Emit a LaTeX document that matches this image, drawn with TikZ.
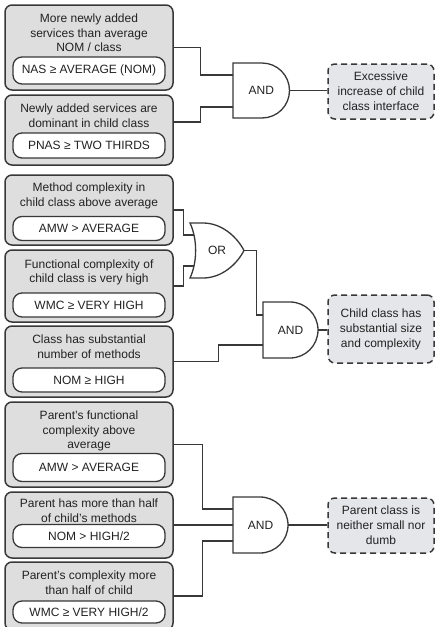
\documentclass[tikz,border=0pt]{standalone}
\usepackage{fontspec}
\setmainfont{Liberation Sans}
\definecolor{boxfill}{HTML}{DEDEDE}
\definecolor{boxline}{HTML}{383838}
\definecolor{resfill}{HTML}{E4E6E9}
\definecolor{ink}{HTML}{222222}

\begin{document}
\begin{tikzpicture}[x=1pt, y=-1pt,
  font=\fontsize{12}{14.5}\selectfont,
  crit/.style={draw=boxline, fill=boxfill, line width=1.5pt,
    rounded corners=7pt, minimum width=168pt, inner sep=0pt},
  cond/.style={draw=boxline, fill=white, line width=1.3pt,
    rounded corners=9pt, minimum width=152pt, inner sep=0pt, text=ink},
  desc/.style={align=center, inner sep=0pt, text=ink},
  result/.style={draw=boxline, dash pattern=on 6pt off 4pt, fill=resfill,
    line width=1.5pt, rounded corners=7pt, minimum width=106pt,
    inner sep=0pt, align=center, text=ink,
    font=\fontsize{12}{15}\selectfont},
  gate/.style={draw=boxline, line width=1.3pt, fill=white},
  gatetext/.style={inner sep=0pt, text=ink},
  wire/.style={draw=boxline, line width=1.3pt}]

\useasboundingbox (0,0) rectangle (436,627);

% ---------- criteria boxes ----------
\node[crit, minimum height=85pt] (b1) at (89,47.5) {};
\node[desc] (t1) at (89,33) {More newly added\\services than average\\NOM / class};
\node[cond, minimum height=27pt] (c1) at (89,70.5) {NAS ≥ AVERAGE (NOM)};

\node[crit, minimum height=70pt] (b2) at (89,130) {};
\node[desc] (t2) at (89,115.5) {Newly added services are\\dominant in child class};
\node[cond, minimum height=25pt] (c2) at (89,145.5) {PNAS ≥ TWO THIRDS};

\node[crit, minimum height=70pt] (b3) at (89,210) {};
\node[desc] (t3) at (89,196) {Method complexity in\\child class above average};
\node[cond, minimum height=24pt] (c3) at (89,228.5) {AMW > AVERAGE};

\node[crit, minimum height=72pt] (b4) at (89,286) {};
\node[desc] (t4) at (89,272.5) {Functional complexity of\\child class is very high};
\node[cond, minimum height=24pt] (c4) at (89,305) {WMC ≥ VERY HIGH};

\node[crit, minimum height=71pt] (b5) at (89,361.5) {};
\node[desc] (t5) at (89,346.5) {Class has substantial\\number of methods};
\node[cond, minimum height=24pt] (c5) at (89,380) {NOM ≥ HIGH};

\node[crit, minimum height=85pt] (b6) at (89,444.5) {};
\node[desc] (t6) at (89,431) {Parent's functional\\complexity above\\average};
\node[cond, minimum height=28pt] (c6) at (89,467.5) {AMW > AVERAGE};

\node[crit, minimum height=66pt] (b7) at (89,525) {};
\node[desc] (t7) at (89,510.5) {Parent has more than half\\of child's methods};
\node[cond, minimum height=23pt] (c7) at (89,536) {NOM > HIGH/2};

\node[crit, minimum height=68pt] (b8) at (89,596) {};
\node[desc] (t8) at (89,582.5) {Parent's complexity more\\than half of child};
\node[cond, minimum height=22pt] (c8) at (89,612) {WMC ≥ VERY HIGH/2};

% ---------- gates ----------
\draw[gate] (233,63) -- (262,63) .. controls (277.2,63) and (289.5,75.3) .. (289.5,90.5)
  .. controls (289.5,105.7) and (277.2,118) .. (262,118) -- (233,118) -- cycle;
\node[gatetext, minimum width=56.5pt, minimum height=55pt] (g1) at (261.25,90.5) {AND};

\draw[gate] (190,223) -- (203,223) .. controls (222,223) and (237,237) .. (244,250.5)
  .. controls (237,264) and (222,278) .. (203,278) -- (190,278)
  .. controls (197.5,262) and (197.5,239) .. (190,223) -- cycle;
\node[gatetext, minimum width=54pt, minimum height=55pt] (or) at (217,250.5) {OR};
\coordinate (or-in1) at (194,235);
\coordinate (or-in2) at (194,266);

\draw[gate] (263,302) -- (290,302) .. controls (305.5,302) and (318,314.5) .. (318,330)
  .. controls (318,345.5) and (305.5,358) .. (290,358) -- (263,358) -- cycle;
\node[gatetext, minimum width=55pt, minimum height=56pt] (g2) at (290.5,330) {AND};

\draw[gate] (233,497) -- (260,497) .. controls (275.5,497) and (288,509.5) .. (288,525)
  .. controls (288,540.5) and (275.5,553) .. (260,553) -- (233,553) -- cycle;
\node[gatetext, minimum width=55pt, minimum height=56pt] (g3) at (260.5,525) {AND};

% ---------- results ----------
\node[result, minimum height=55pt] (r1) at (381,91.5) {Excessive\\increase of child\\class interface};
\node[result, minimum height=68pt] (r2) at (381,329) {Child class has\\substantial size\\and complexity};
\node[result, minimum height=55pt] (r3) at (381,525.5) {Parent class is\\neither small nor\\dumb};

% ---------- wires ----------
\draw[wire] (b1.east) -- ++(27,0) |- ([yshift=15.5pt]g1.west);
\draw[wire] ([yshift=8pt]b2.east) -- ++(27,0) |- ([yshift=-16.5pt]g1.west);
\draw[wire] (g1.east) -- (r1.west |- g1.east);

\draw[wire] (b3.east) -- ++(10,0) |- (or-in1);
\draw[wire] (b4.east) -- ++(10,0) |- (or-in2);
\draw[wire] (or.east) -- ++(12,0) |- ([yshift=15pt]g2.west);
\draw[wire] (b5.east) -- ++(45,0) |- ([yshift=-15pt]g2.west);
\draw[wire] (g2.east) -- (r2.west |- g2.east);

\draw[wire] (b6.east) -- ++(29,0) |- ([yshift=16pt]g3.west);
\draw[wire] (b7.east) -- (g3.west);
\draw[wire] (b8.east) -- ++(29,0) |- ([yshift=-16pt]g3.west);
\draw[wire] (g3.east) -- (r3.west |- g3.east);
\end{tikzpicture}
\end{document}
